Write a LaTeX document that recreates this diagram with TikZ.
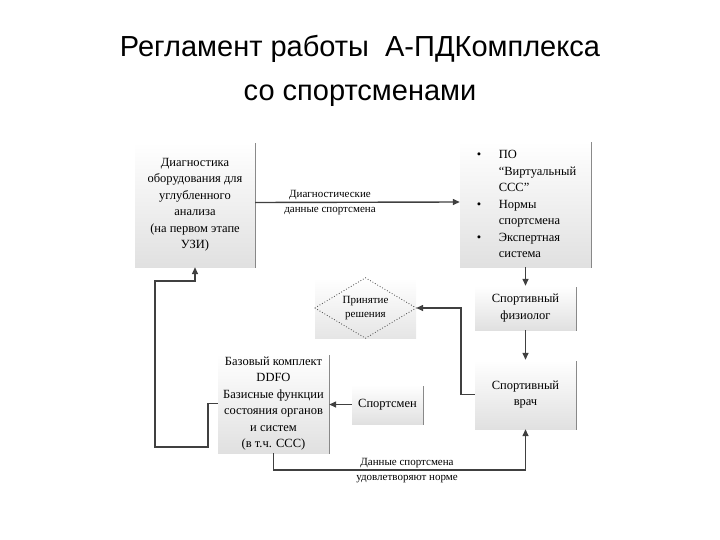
\documentclass[tikz,border=0pt]{standalone}
\usepackage{fontspec}
\setmainfont{Liberation Sans}
\newfontfamily\serifx{Liberation Serif}
\usetikzlibrary{arrows.meta,shadows,calc}
\definecolor{lc}{HTML}{404040}
\tikzset{
  boxx/.style={rectangle, inner sep=1pt, top color=white, bottom color=black!12,
    drop shadow={shadow xshift=1.3pt, shadow yshift=-1.3pt, fill=black!65, opacity=0.8},
    font=\serifx\fontsize{12.5}{16.5}\selectfont, align=center},
  conn/.style={draw=lc, line width=1.4pt, -{Triangle[length=7pt,width=6pt]}},
  lbl/.style={font=\serifx\fontsize{11}{15}\selectfont, align=center, inner sep=0pt},
  ttl/.style={font=\fontsize{29}{34}\selectfont}
}
\begin{document}
\begin{tikzpicture}[x=1pt,y=-1pt]
\useasboundingbox (0,0) rectangle (720,540);
\node[ttl] (t1) at (360,49) {Регламент работы~~А-ПДКомплекса};
\node[ttl] (t2) at (360,96) {со спортсменами};

\node[boxx, minimum width=120pt, minimum height=125pt] (b1) at (195,204.5)
  {Диагностика\\оборудования для\\углубленного\\анализа\\(на первом этапе\\УЗИ)};
\node[boxx, minimum width=131pt, minimum height=126pt, align=left] (b2) at (525.5,204)
  {\makebox[24pt][l]{\hspace{2pt}\textbullet}ПО\\
   \hspace*{24pt}“Виртуальный\\
   \hspace*{24pt}ССС”\\
   \makebox[24pt][l]{\hspace{2pt}\textbullet}Нормы\\
   \hspace*{24pt}спортсмена\\
   \makebox[24pt][l]{\hspace{2pt}\textbullet}Экспертная\\
   \hspace*{24pt}система};
\node[boxx, minimum width=101pt, minimum height=44pt] (fiz) at (525.5,308)
  {Спортивный\\физиолог};
\node[boxx, minimum width=101pt, minimum height=69pt] (vr) at (525.5,394.5)
  {Спортивный\\врач};
\node[boxx, minimum width=71pt, minimum height=39pt] (sp) at (387.5,404.5)
  {Спортсмен};
\node[boxx, minimum width=111pt, minimum height=99pt] (base) at (273.5,403.5)
  {Базовый комплект\\DDFO\\Базисные функции\\состояния органов\\и систем\\(в т.ч. ССС)};
\node[rectangle, inner sep=0pt, top color=white, bottom color=black!10,
  minimum width=101pt, minimum height=60pt, font=\serifx\fontsize{11}{14}\selectfont,
  align=center] (dm) at (365.5,308) {Принятие\\решения};
\draw[black!75, dotted, line width=0.8pt] (dm.west) -- (dm.north) -- (dm.east) -- (dm.south) -- cycle;

\draw[conn] ($(b1.east)+(0,-2)$) -- ($(b2.west)+(0,-2)$);
\node[lbl] (l1) at (330,203) {Диагностические\\данные спортсмена};
\draw[conn] (b2.south) -- (fiz.north);
\draw[conn] (fiz.south) -- (vr.north);
\draw[conn] (vr.west) -- ++(-14,0) |- (dm.east);
\draw[conn] (sp.west) -- (base.east |- sp.west);
\coordinate (c1) at (208,447);
\coordinate (c2) at (155,447);
\coordinate (c3) at (155,281);
\draw[conn] (base.west) -| (c1) -- (c2) -- (c3) -| (b1.south);
\coordinate (c4) at (273.5,470);
\draw[conn] (base.south) -- (c4) -| (vr.south);
\node[lbl] (l2) at (407,471) {Данные спортсмена\\удовлетворяют норме};
\end{tikzpicture}
\end{document}
